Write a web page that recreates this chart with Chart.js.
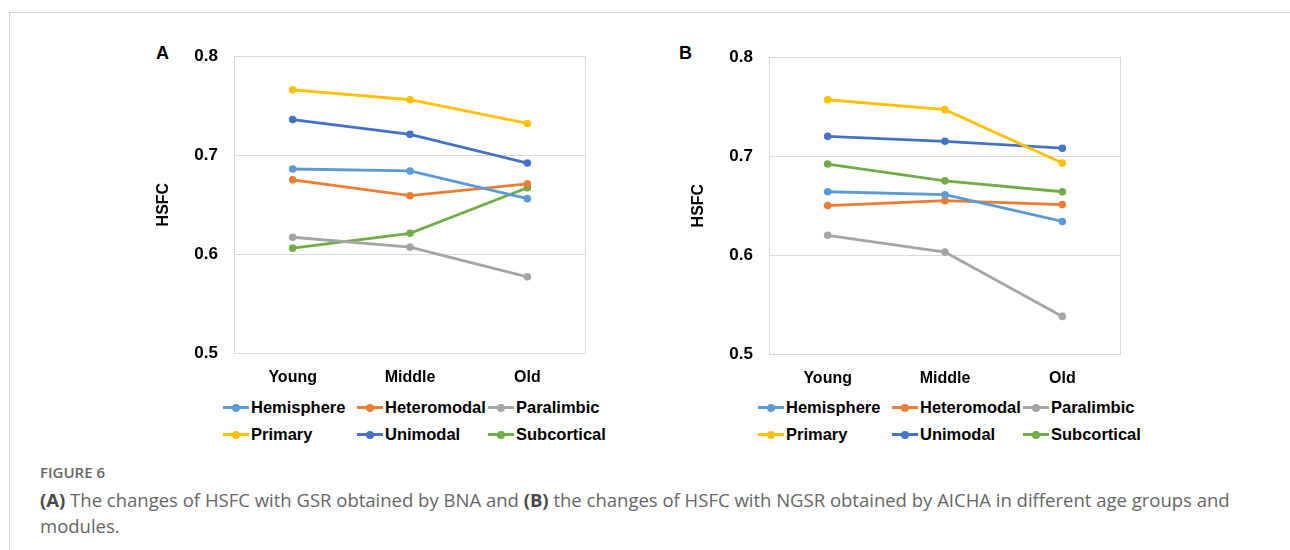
<!DOCTYPE html>
<html>
<head>
<meta charset="utf-8">
<script src="https://cdn.jsdelivr.net/npm/chart.js@4.4.1/dist/chart.umd.min.js"></script>
<style>
    html, body { margin: 0; padding: 0; background: #fff; }
    body { width: 1290px; height: 550px; position: relative; overflow: hidden; }
    .frame { position: absolute; left: 9px; top: 12px; right: -2px; bottom: -2px;
             border-top: 1px solid #cfcfcf; border-left: 1px solid #cfcfcf; }
    canvas { position: absolute; }
    .panel { position: absolute; font: bold 18px "Liberation Sans", Arial, sans-serif; color: #000; }
    .legend { position: absolute; font: bold 16.5px "Liberation Sans", Arial, sans-serif; color: #000; }
    .legend .item { position: absolute; height: 20px; line-height: 20px; white-space: nowrap; }
    .legend .swatch { position: absolute; left: 0; top: 9px; width: 26px; height: 3px; }
    .legend .swatch i { position: absolute; left: 9px; top: -2.5px; width: 8px; height: 8px; border-radius: 50%; }
    .legend .label { position: absolute; left: 28px; top: 0; }
    .fig { position: absolute; left: 40px; top: 462px; font: 600 15px "Open Sans", sans-serif; color: #666; }
    .caption { position: absolute; left: 40px; top: 487px; font: 18.5px "Open Sans", sans-serif; color: #666;
               line-height: 26px; white-space: nowrap; }
    .caption b { font-weight: 700; color: #4a4a4a; }
</style>
</head>
<body>
<div class="frame"></div>
<div class="panel" style="left:156px; top:43px;">A</div>
<div class="panel" style="left:679px; top:43px;">B</div>
<canvas id="chartA" width="450" height="360" style="left:150px; top:30px;"></canvas>
<canvas id="chartB" width="450" height="360" style="left:685px; top:31px;"></canvas>
<div class="legend" id="legendA" style="left:223px; top:397px;"></div>
<div class="legend" id="legendB" style="left:758px; top:397px;"></div>
<div class="fig">FIGURE 6</div>
<div class="caption"><b>(A)</b> The changes of HSFC with GSR obtained by BNA and <b>(B)</b> the changes of HSFC with NGSR obtained by AICHA in different age groups and<br>modules.</div>

<script>
'use strict';

// ---- data ----
const ageGroups  = ['Young', 'Middle', 'Old'];
const moduleNames = ['Hemisphere', 'Heteromodal', 'Paralimbic', 'Primary', 'Unimodal', 'Subcortical'];
const moduleColors = ['#5b9bd5', '#ed7d31', '#a5a5a5', '#ffc000', '#4472c4', '#70ad47'];
const yTicks = [0.5, 0.6, 0.7, 0.8];

// (A) GSR / BNA
const hemisphereA  = [0.686, 0.684, 0.656];
const heteromodalA = [0.675, 0.659, 0.671];
const paralimbicA  = [0.617, 0.607, 0.577];
const primaryA     = [0.766, 0.756, 0.732];
const unimodalA    = [0.736, 0.721, 0.692];
const subcorticalA = [0.606, 0.621, 0.667];

// (B) NGSR / AICHA
const hemisphereB  = [0.664, 0.661, 0.634];
const heteromodalB = [0.650, 0.655, 0.651];
const paralimbicB  = [0.620, 0.603, 0.538];
const primaryB     = [0.757, 0.747, 0.693];
const unimodalB    = [0.720, 0.715, 0.708];
const subcorticalB = [0.692, 0.675, 0.664];

const seriesA = [hemisphereA, heteromodalA, paralimbicA, primaryA, unimodalA, subcorticalA];
const seriesB = [hemisphereB, heteromodalB, paralimbicB, primaryB, unimodalB, subcorticalB];

// ---- chart area frame ----
const areaBorder = {
    id: 'areaBorder',
    beforeDatasetsDraw(chart) {
        const { ctx, chartArea: a } = chart;
        ctx.save();
        ctx.strokeStyle = '#d9d9d9';
        ctx.lineWidth = 1;
        ctx.strokeRect(Math.round(a.left) + 0.5, Math.round(a.top) + 0.5,
                       Math.round(a.width) - 1, Math.round(a.height));
        ctx.restore();
    }
};

const axisFont = { family: "'Liberation Sans', Arial, sans-serif", weight: 'bold' };

function makeChart(id, series) {
    return new Chart(document.getElementById(id), {
        type: 'line',
        data: {
            labels: ageGroups,
            datasets: series.map((vals, i) => ({
                label: moduleNames[i],
                data: vals,
                borderColor: moduleColors[i],
                backgroundColor: moduleColors[i],
                borderWidth: 2.8,
                pointRadius: 3.8,
                pointBorderWidth: 0,
                tension: 0,
            }))
        },
        options: {
            responsive: false,
            animation: false,
            devicePixelRatio: 1,
            layout: { padding: { top: 6, right: 14, bottom: 0, left: 0 } },
            plugins: { legend: { display: false }, tooltip: { enabled: false } },
            scales: {
                x: {
                    offset: true,
                    grid: { display: false, drawTicks: false },
                    border: { display: false },
                    ticks: { color: '#000', padding: 15, font: { ...axisFont, size: 16 } },
                    afterFit: s => { s.height = 37; }
                },
                y: {
                    min: yTicks[0],
                    max: yTicks[yTicks.length - 1],
                    afterBuildTicks: s => { s.ticks = yTicks.map(v => ({ value: v })); },
                    grid: { color: '#d9d9d9', drawTicks: false },
                    border: { display: false },
                    ticks: { color: '#000', padding: 16, font: { ...axisFont, size: 17 },
                             callback: v => v.toFixed(1) },
                    title: { display: true, text: 'HSFC', color: '#000',
                             font: { ...axisFont, size: 16 }, padding: { top: 4, bottom: 0 } },
                    afterFit: s => { s.width = 84; }
                }
            }
        },
        plugins: [areaBorder]
    });
}

function buildLegend(id) {
    const box = document.getElementById(id);
    const colX = [0, 134, 265];
    moduleNames.forEach((name, i) => {
        const item = document.createElement('div');
        item.className = 'item';
        item.style.left = colX[i % 3] + 'px';
        item.style.top  = (Math.floor(i / 3) * 27) + 'px';
        item.innerHTML = '<span class="swatch" style="background:' + moduleColors[i] + '"><i style="background:' +
                         moduleColors[i] + '"></i></span><span class="label">' + name + '</span>';
        box.appendChild(item);
    });
}

makeChart('chartA', seriesA);
makeChart('chartB', seriesB);
buildLegend('legendA');
buildLegend('legendB');
</script>
</body>
</html>
